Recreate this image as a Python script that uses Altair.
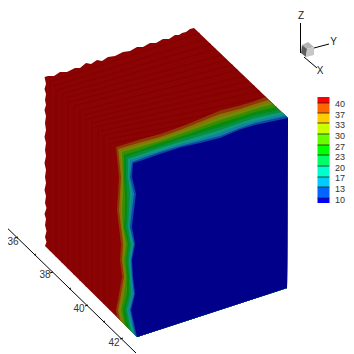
import altair as alt

# ---- geometry (image pixels) ----
hull = [(45,246),(46.5,242),(45,237),(46.5,231),(45,225),(46,219),(44.5,214),(46.5,208),(45,203),(46,196),
        (44.5,190),(46,183),(45,177),(46,170),(44.5,163),(46,156),(45,150),(46,143),(44.5,137),(46,130),
        (45,123),(46,116),(44.5,110),(46,105),(45,100),(46,94),(44.5,89),(46,84),(44.5,77),
        (48,76),(54,76),(60,72),(67,72),(75,68),(80,68),(86,63),(91,64),(97,60),(102,61),(108,57),(115,56),
        (123,52),(130,51),(137,47),(143,47),(150,43),(156,43),(163,39),(169,39),(175,35),(179,35),(182,33),(186,32),
        (190,29),(194,28),(288,118),(287,288),(137,337)]

left_y = [310,294,277,260,244,227,210,194,177]
top_x = [140,160,180,200,220,240,255]

# one row per contour, red side to blue side
contour_left_x = [
    [116,119,122,120,121,119,117,118,119],
    [118,121,124,122,123,121,119,120,121],
    [119,123,125,123,124,122,121,121,122],
    [121,124,126,124,126,123,122,123,123],
    [123,127,127,126,128,124,125,125,124],
    [125,129,129,127,129,126,127,127,126],
    [127,131,130,129,131,128,129,130,128],
    [128,132,131,130,133,129,130,132,129],
    [130,134,132,131,134,130,132,134,130],
    [131,135,133,132,135,132,134,136,132],
]
contour_top_y = [
    [139.5,134,127,119,110.5,105.5,101],
    [142.5,137,130,122,114,109,104],
    [144.5,139,132,125,117,111,107],
    [147,141,134,127,120,114,109],
    [150,143,137,130,123,117,112],
    [152,146,139,133,127,120,115],
    [155,148,142,136,130,123,118],
    [157,151,144,139,133,125,121],
    [159,152,146,141,136,128,123],
    [161,154,147.5,143,138,129.5,125],
]
contour_low_end = [(117,317),(120,320),(122,322),(124,324),(126,326),(129,329),(131,331),(134,334),(135,335),(137,337)]
contour_corner = [(116,147),(118,149),(120,151),(122,152),(124,155),(126,157),(128,159),(130,160),(132,162),(133,163)]
contour_high_end = [(265,97),(268,100),(270,102),(273,104),(276,107),(279,110),(282,112),(284,114),(286,116),(288,118)]
face_colors = ["#8b3a05","#8b7005","#6f8b05","#388b05","#058b10","#068f45","#109a80","#1580a0","#0a4aa5","#00008b"]
hull_color = "#8b0303"

# ridges on the top face and on the left face
top_x1 = [49,53,58,62,66,70,74,79,83,87,91,95,100,104,108,112]
top_y1 = [82,86,90,94,98,102,106,111,115,119,123,127,131,135,139,143]
top_x2 = [200,205,211,216,222,227,233,238,244,249,255,260,266,271,277,282]
top_y2 = [33,39,44,49,55,60,65,70,76,81,86,91,97,102,107,113]
side_x = [50,56,62,68,74,80,86,92,98,104,110]
side_y1 = [83,89,95,100,106,112,118,124,129,135,141]
side_y2 = [251,257,263,269,275,281,287,292,298,304,310]

# axis with ticks
axis_x = [0,136]; axis_y = [221,353]
major_x = [18,53,88,123]; major_y = [237,272,305,338]
minor_x = [36,71,105]; minor_y = [254,288,321]
axis_labels = ["36","38","40","42"]
label_x = [13,45,79,114]; label_y = [242,275,309,343]

# colour bar
bar_edges = [97,103,113,123,134,145,155,166,177,187,198,203]
bar_colors = ["#ff0000","#ff6600","#ffcc00","#ccff00","#66ff00","#00ff00","#00ff66","#00ffcc","#00ccff","#0066ff","#0000ff"]
bar_labels = ["40","37","33","30","27","23","20","17","13","10"]
bar_label_y = [104,114.5,125,136,146.5,157,168,178,189,199.5]

# orientation triad
triad_faces = [
    ([(302,45),(308,42),(314,47),(307,49)], "#b4b4b4"),
    ([(302,45),(307,49),(306,57),(301,53)], "#5e5e5e"),
    ([(307,49),(314,47),(314,55),(306,57)], "#c6c6c6"),
]
triad_lines = [((300.5,23),(300.5,53)),((314,48),(329,44)),((304,57),(317,68))]
triad_text = [("Z",301,15.5),("Y",333.5,42),("X",320,71)]

FONT = "Liberation Sans"
W = 338
H = 346
frame = [(8,8),(8+W,8),(8+W,8+H),(8,8+H)]
xs = alt.Scale(domain=[8, 8+W], nice=False, zero=False)
ys = alt.Scale(domain=[8+H, 8], nice=False, zero=False)
X = lambda f: alt.X(f, type="quantitative", scale=xs, axis=None)
Y = lambda f: alt.Y(f, type="quantitative", scale=ys, axis=None)

def feature(points, color):
    ring = [list(p) for p in points] + [list(points[0])]
    return {"type":"Feature","properties":{"c":color},"geometry":{"type":"Polygon","coordinates":[ring]}}

def shapes(features):
    return (alt.Chart(alt.InlineData(values={"type":"FeatureCollection","features":features},
                                     format=alt.DataFormat(property="features", type="json")))
            .mark_geoshape(strokeWidth=0)
            .encode(fill=alt.Fill("properties.c:N", scale=None))
            .project(type="identity", scale=1, translate=[-8,-8]))

def rules(rows, color, width=1, opacity=1):
    return (alt.Chart(alt.Data(values=rows))
            .mark_rule(color=color, strokeWidth=width, opacity=opacity)
            .encode(x=X("x:Q"), y=Y("y:Q"), x2="x2:Q", y2="y2:Q"))

def texts(rows, size, color, align="center"):
    return (alt.Chart(alt.Data(values=rows))
            .mark_text(font=FONT, fontSize=size, color=color, align=align, baseline="middle")
            .encode(x=X("x:Q"), y=Y("y:Q"), text="t:N"))

layers = []
layers.append(shapes([feature(frame, "#ffffff"), feature(hull, hull_color)]))
stripes = [dict(x=a,y=b,x2=c,y2=d) for a,b,c,d in zip(top_x1,top_y1,top_x2,top_y2)]
stripes += [dict(x=a,y=b,x2=a,y2=c) for a,b,c in zip(side_x,side_y1,side_y2)]
layers.append(rules(stripes, "#730000", 1, 0.5))

bands = []
for i, col in enumerate(face_colors):
    pts = [contour_low_end[i]]
    pts += list(zip(contour_left_x[i], left_y))
    pts.append(contour_corner[i])
    pts += list(zip(top_x, contour_top_y[i]))
    pts.append(contour_high_end[i])
    pts += [(288,118),(287,288),(137,337)]
    bands.append(feature(pts, col))
layers.append(shapes(bands))

# axis
ax = [dict(x=axis_x[0],y=axis_y[0],x2=axis_x[1],y2=axis_y[1])]
ax += [dict(x=a,y=b,x2=a-3,y2=b+1) for a,b in zip(major_x,major_y)]
ax += [dict(x=a,y=b,x2=a-2,y2=b+1) for a,b in zip(minor_x,minor_y)]
layers.append(rules(ax, "#000000", 1))
layers.append(texts([dict(x=a,y=b,t=c) for a,b,c in zip(label_x,label_y,axis_labels)], 10, "#333333"))

# colour bar
cb = [dict(y=bar_edges[i], y2=bar_edges[i+1], c=bar_colors[i]) for i in range(len(bar_colors))]
layers.append(alt.Chart(alt.Data(values=cb)).mark_rect().encode(
    x=alt.value(317.5-8), x2=alt.value(329.5-8),
    y=Y("y:Q"), y2="y2:Q", fill=alt.Fill("c:N", scale=None)))
layers.append(rules([dict(x=317.5,y=e,x2=329.5,y2=e) for e in bar_edges[1:-1]], "#222222", 1, 0.8))
layers.append(texts([dict(x=335,y=b,t=c) for b,c in zip(bar_label_y,bar_labels)], 9, "#333333", "left"))

# triad
layers.append(shapes([feature(p, c) for p, c in triad_faces]))
layers.append(rules([dict(x=a[0],y=a[1],x2=b[0],y2=b[1]) for a,b in triad_lines], "#000000", 1))
layers.append(texts([dict(x=x,y=y,t=t) for t,x,y in triad_text], 10, "#222222"))

chart = (alt.layer(*layers)
         .properties(width=W, height=H, padding=0, background="white",
                     autosize=alt.AutoSizeParams(type="none"))
         .configure_view(stroke=None))
chart.save("out.html", embed_options={"renderer": "svg", "actions": False})
